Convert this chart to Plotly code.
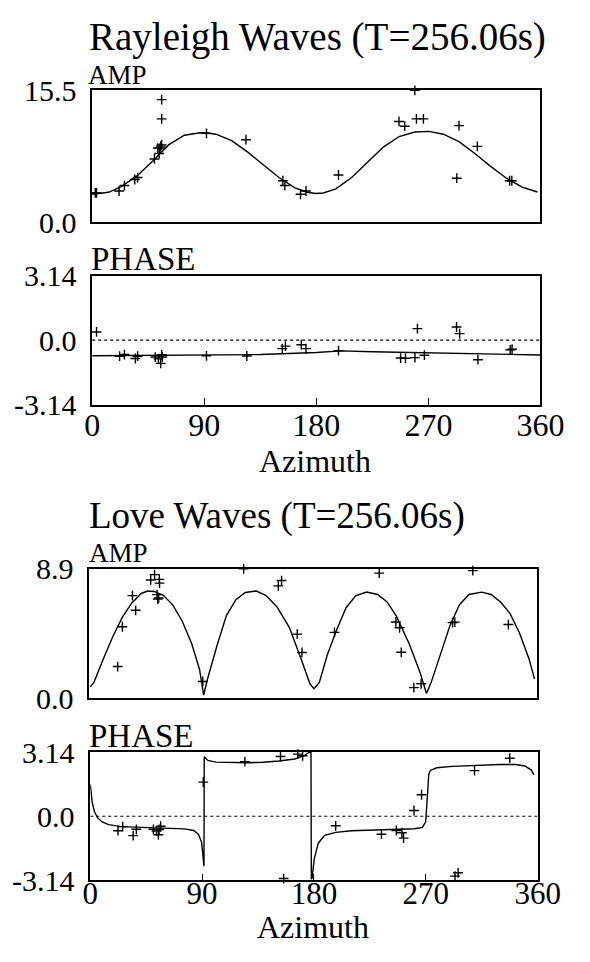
import plotly.graph_objects as go

# ---------------- data ----------------
# Rayleigh waves: observed amplitude
R_AMP_AZ = [2.5, 3.5, 21.6, 25.9, 34.2, 36.5, 50.0, 53.8, 54.5, 52.7, 55.8, 55.0, 55.8, 55.8, 91.8, 123.5,
            153.1, 154.7, 167.3, 171.7, 197.8, 246.4, 251.0, 260.4, 266.0, 259.1, 294.6, 292.8, 309.3, 335.2, 337.0]
R_AMP_OBS = [3.46, 3.46, 3.69, 4.33, 5.04, 5.27, 7.45, 8.09, 8.73, 8.73, 9.10, 8.95, 12.15, 14.41, 10.46, 9.71,
             4.89, 4.33, 3.31, 3.69, 5.57, 11.85, 11.29, 12.15, 12.15, 15.5, 11.36, 5.19, 8.92, 4.89, 4.89]
# Rayleigh waves: model amplitude curve
R_MOD_AZ = [0, 13.2, 23.3, 36, 48.7, 61.4, 74, 86.7, 91.8, 99.4, 112, 124.7, 137.4, 150, 162.8, 172.9, 179.3,
            185.6, 195.7, 208.4, 221.1, 233.8, 246.5, 259.1, 270.5, 282, 294.6, 307.3, 320, 332.7, 345.3, 357.5]
R_MOD_AMP = [3.31, 3.54, 4.21, 5.46, 7.22, 9.10, 10.23, 10.53, 10.50, 10.35, 9.59, 8.28, 6.77, 5.27, 4.06, 3.54,
             3.39, 3.46, 3.95, 5.27, 7.07, 8.84, 10.08, 10.61, 10.68, 10.35, 9.48, 8.09, 6.58, 5.19, 4.14, 3.57]
# Rayleigh waves: observed phase
R_PH_AZ = [3.5, 22.0, 25.9, 34.7, 36.5, 50.7, 53.2, 55.0, 56.3, 55.8, 91.8, 124.2, 152.7, 155.2, 167.9, 171.7,
           197.8, 247.7, 251.6, 259.2, 261.2, 266.8, 292.6, 295.1, 309.8, 335.7, 337.2]
R_PH_OBS = [0.40, -0.78, -0.70, -0.89, -0.78, -0.82, -0.91, -1.13, -0.82, -0.71, -0.76, -0.77, -0.41, -0.29,
            -0.22, -0.41, -0.51, -0.87, -0.88, -0.85, 0.56, -0.73, 0.64, 0.32, -0.95, -0.47, -0.44]
# Rayleigh waves: model phase curve
R_MOD_PH_AZ = [0, 45, 90, 135, 180, 200, 225, 270, 315, 360]
R_MOD_PH = [-0.76, -0.75, -0.73, -0.70, -0.60, -0.52, -0.56, -0.62, -0.66, -0.72]

# Love waves: observed amplitude
L_AMP_AZ = [22.8, 26.6, 34.7, 37.3, 49.4, 52.5, 56.3, 56.5, 54.5, 55.8, 55.0, 91.3, 124.2, 152.1, 154.7, 167.3,
            171.1, 197.3, 233.3, 246.7, 249.7, 251.0, 261.2, 267.0, 292.3, 294.1, 308.6, 337.2]
L_AMP_OBS = [2.17, 4.91, 7.05, 6.04, 8.13, 8.50, 8.17, 7.91, 7.12, 6.89, 6.81, 1.14, 8.9, 7.72, 8.09, 4.40,
             3.14, 4.52, 8.60, 5.24, 4.84, 3.15, 0.72, 0.98, 5.19, 5.23, 8.77, 5.06]
# Love waves: model amplitude curve
L_MOD_AZ = [0.8, 3.8, 11.4, 19, 26.6, 34.2, 41.8, 46.9, 52, 59.6, 67.2, 74.8, 82.4, 88.7, 92, 95.1, 102.7, 110.3,
            117.9, 125.5, 134.4, 142, 150.9, 161, 171.1, 177.5, 180.8, 185.1, 191.4, 199, 206.6, 214.3, 223.1,
            232, 239.6, 247.2, 257.4, 266.2, 271.3, 275.1, 282.7, 290.3, 297.9, 305.5, 315.7, 323.3, 330.9,
            338.5, 346.1, 353.7, 358.3]
L_MOD_AMP = [0.77, 1.10, 2.73, 4.26, 5.57, 6.55, 7.20, 7.37, 7.34, 7.07, 6.40, 5.29, 3.74, 1.97, 0.21, 1.31,
             3.60, 5.68, 6.77, 7.27, 7.37, 7.07, 6.29, 4.85, 2.53, 0.98, 0.65, 1.08, 2.94, 4.69, 6.22, 7.04,
             7.30, 7.13, 6.62, 5.62, 3.74, 1.75, 0.31, 1.08, 3.04, 5.01, 6.43, 7.13, 7.29, 7.13, 6.61, 5.83,
             4.50, 2.73, 1.30]
# Love waves: observed phase
L_PH_AZ = [22.3, 26.1, 34.5, 37.1, 50.8, 53.3, 54.8, 56.6, 55.3, 90.9, 124.4, 153.1, 155.6, 167.0, 170.9,
           197.5, 234.3, 246.3, 250.8, 252.1, 260.5, 266.6, 293.5, 296.0, 309.2, 337.6]
L_PH_OBS = [-0.71, -0.51, -0.95, -0.64, -0.64, -0.72, -0.91, -0.49, -0.65, 1.67, 2.67, 2.92, -3.05, 3.04,
            2.96, -0.47, -0.88, -0.70, -0.81, -1.07, 0.28, 1.05, -2.93, -2.77, 2.23, 2.84]
# Love waves: model phase curve
L_MOD_PH_AZ = [0, 1.5, 3.3, 5.8, 9.6, 14.7, 24.9, 37.6, 50.3, 63, 75.7, 83.3, 87.1, 89.6, 91.0, 91.5, 91.7,
               94.7, 101, 113.7, 126.4, 139.1, 151.8, 164.5, 172.1, 175.2, 177.6, 177.9, 178.5, 180.2, 183.5,
               188.6, 197.5, 210.2, 222.9, 235.6, 248.3, 261, 267.3, 269.9, 271.1, 272.4, 273.7, 278.8, 291.4,
               304.1, 316.8, 329.5, 342.2, 349.8, 354.9, 357]
L_MOD_PH = [1.55, 0.70, 0.23, -0.07, -0.28, -0.41, -0.51, -0.54, -0.57, -0.59, -0.62, -0.70, -0.89, -1.28,
            -2.29, -2.45, 2.91, 2.73, 2.65, 2.62, 2.62, 2.64, 2.70, 2.80, 2.96, 3.10, 3.14, -3.08, -3.03,
            -2.10, -1.32, -0.94, -0.79, -0.71, -0.69, -0.66, -0.64, -0.61, -0.55, -0.27, 0.82, 2.06, 2.24,
            2.37, 2.44, 2.48, 2.51, 2.53, 2.53, 2.46, 2.26, 2.02]

ZERO_AZ = [0, 360]
ZERO_PH = [0, 0]

X_TICKS = [0, 90, 180, 270, 360]
X_TICK_TEXT = ["0", "90", "180", "270", "360"]
R_AMP_TICKS = [0, 15.5]
R_AMP_TICK_TEXT = ["0.0", "15.5"]
L_AMP_TICKS = [0, 8.9]
L_AMP_TICK_TEXT = ["0.0", "8.9"]
PH_TICKS = [-3.14, 0, 3.14]
PH_TICK_TEXT = ["-3.14", "0.0", "3.14"]

TITLE_R = "Rayleigh Waves (T=256.06s)"
TITLE_L = "Love Waves (T=256.06s)"

# ---------------- figure ----------------
W, H = 590, 962
FONT = "Liberation Serif, 'Times New Roman', Times, serif"


def px_x(p):
    return p / W


def px_y(p):
    return 1 - p / H


fig = go.Figure()

marker = dict(symbol="cross-thin", size=7, color="black", line=dict(color="black", width=1.4))
curve = dict(color="black", width=1.4)
dotted = dict(color="black", width=1.1, dash="dot")


def add_panel(idx, mod_x, mod_y, obs_x, obs_y, zero=False):
    xa = "x" if idx == 1 else f"x{idx}"
    ya = "y" if idx == 1 else f"y{idx}"
    if zero:
        fig.add_trace(go.Scatter(x=ZERO_AZ, y=ZERO_PH, mode="lines", line=dotted,
                                 xaxis=xa, yaxis=ya, hoverinfo="skip"))
    fig.add_trace(go.Scatter(x=mod_x, y=mod_y, mode="lines", line=curve, xaxis=xa, yaxis=ya))
    fig.add_trace(go.Scatter(x=obs_x, y=obs_y, mode="markers", marker=marker, xaxis=xa, yaxis=ya,
                             cliponaxis=False))


add_panel(1, R_MOD_AZ, R_MOD_AMP, R_AMP_AZ, R_AMP_OBS)
add_panel(2, R_MOD_PH_AZ, R_MOD_PH, R_PH_AZ, R_PH_OBS, zero=True)
add_panel(3, L_MOD_AZ, L_MOD_AMP, L_AMP_AZ, L_AMP_OBS)
add_panel(4, L_MOD_PH_AZ, L_MOD_PH, L_PH_AZ, L_PH_OBS, zero=True)

# panel boxes in pixels: (left, right, top, bottom)
boxes = {
    1: (89, 563, 76, 213),
    2: (89, 563, 268, 402),
    3: (86, 559, 572, 706),
    4: (87, 560, 762, 895),
}
# how far (px) the azimuth tick-label row sits above its default place
LABEL_LIFT = {2: 2, 4: 9}
X_LABEL_SIZE = {2: 32, 4: 31}

common_axis = dict(showline=True, linecolor="black", linewidth=1.5, mirror=True, showgrid=False,
                   zeroline=False, fixedrange=True)

layout_axes = {}
for i, (l, r, t, b) in boxes.items():
    xname = "xaxis" if i == 1 else f"xaxis{i}"
    yname = "yaxis" if i == 1 else f"yaxis{i}"
    xa_anchor = "y" if i == 1 else f"y{i}"
    ya_anchor = "x" if i == 1 else f"x{i}"
    is_phase = i in (2, 4)
    xa = dict(common_axis, domain=[px_x(l), px_x(r)], anchor=xa_anchor, range=[0, 360],
              showticklabels=False)
    if is_phase:
        xa.update(tickmode="array", tickvals=X_TICKS, ticks="inside", ticklen=7,
                  tickwidth=1.2, tickcolor="black")
    else:
        xa.update(ticks="")
    ya = dict(common_axis, domain=[px_y(b), px_y(t)], anchor=ya_anchor, ticks="",
              tickfont=dict(family=FONT, size=30, color="black"), tickmode="array", ticklabelstandoff=8)
    if i == 1:
        ya.update(range=[0, 15.5], tickvals=R_AMP_TICKS, ticktext=R_AMP_TICK_TEXT)
    elif i == 3:
        ya.update(range=[0, 8.9], tickvals=L_AMP_TICKS, ticktext=L_AMP_TICK_TEXT)
    else:
        ya.update(range=[-3.14, 3.14], tickvals=PH_TICKS, ticktext=PH_TICK_TEXT)
    layout_axes[xname] = xa
    layout_axes[yname] = ya

# azimuth tick-label axes (overlaying the phase panels)
label_axis_ids = {2: 5, 4: 6}
for panel, ax_id in label_axis_ids.items():
    l, r, t, b = boxes[panel]
    layout_axes[f"xaxis{ax_id}"] = dict(
        overlaying=f"x{panel}", anchor="free", position=px_y(b - LABEL_LIFT[panel]),
        domain=[px_x(l), px_x(r)], range=[0, 360], side="bottom",
        showline=False, showgrid=False, zeroline=False, ticks="", fixedrange=True,
        tickmode="array", tickvals=X_TICKS, ticktext=X_TICK_TEXT, ticklabelstandoff=0,
        tickfont=dict(family=FONT, size=X_LABEL_SIZE[panel], color="black"),
    )
    fig.add_trace(go.Scatter(x=[], y=[], mode="markers", xaxis=f"x{ax_id}", yaxis=f"y{panel}",
                             showlegend=False, hoverinfo="skip"))


def label(text, x_px, y_mid_px, size, xanchor="left"):
    return dict(text=text, x=px_x(x_px), y=px_y(y_mid_px), xref="paper", yref="paper",
                xanchor=xanchor, yanchor="middle", showarrow=False,
                font=dict(family=FONT, size=size, color="black"))


annotations = [
    label(TITLE_R, 84, 21, 39),
    label("AMP", 82, 60, 27),
    label("PHASE", 86, 251, 33),
    label("Azimuth", 325, 460, 32, xanchor="center"),
    label(TITLE_L, 84, 517, 37),
    label("AMP", 84, 556, 27),
    label("PHASE", 84, 745, 33),
    label("Azimuth", 323, 943, 32, xanchor="center"),
]

fig.update_layout(
    width=W, height=H, autosize=False,
    margin=dict(l=0, r=0, t=0, b=0),
    paper_bgcolor="white", plot_bgcolor="white",
    showlegend=False,
    font=dict(family=FONT, color="black"),
    annotations=annotations,
    **layout_axes,
)

fig.write_html("out.html", config={"displayModeBar": False})
